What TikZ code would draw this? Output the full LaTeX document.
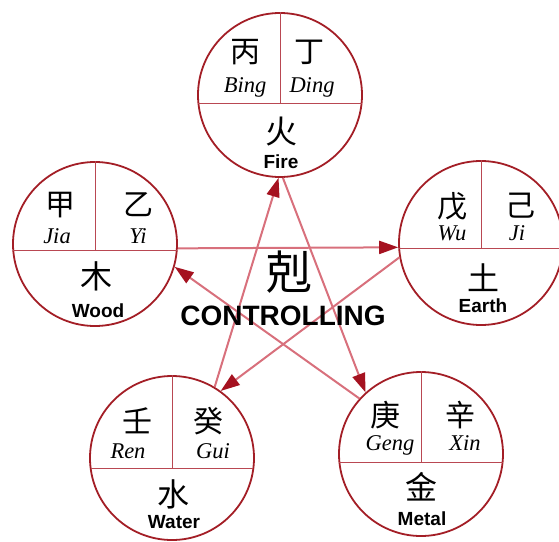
\documentclass[tikz,border=0pt]{standalone}
\usepackage{fontspec}
\setsansfont{Liberation Sans}
\newfontfamily\pinyinfont{Liberation Serif}
\newfontfamily\cjkfont{Noto Sans CJK SC}
\usepackage{tikz}
\usetikzlibrary{arrows.meta}

\definecolor{ringred}{RGB}{163,30,38}
\definecolor{splitred}{RGB}{185,72,82}
\definecolor{ctrlpink}{RGB}{216,112,124}
\definecolor{tipred}{RGB}{165,18,32}

\begin{document}
\begin{tikzpicture}[
    x=1pt, y=-1pt,
    ring/.style={circle, draw=ringred, line width=1.8pt, minimum size=164pt, inner sep=0pt},
    split/.style={splitred, line width=0.9pt},
    stem/.style={font=\cjkfont\fontsize{30}{30}\selectfont},
    pinyin/.style={anchor=base, font=\pinyinfont\itshape\fontsize{22.5}{22.5}\selectfont},
    phase/.style={font=\cjkfont\fontsize{32}{32}\selectfont},
    phasename/.style={anchor=base, font=\sffamily\bfseries\fontsize{19}{19}\selectfont},
    ctrl/.style={ctrlpink, line width=2pt, -{Triangle[length=19pt,width=13pt,color=tipred]}}
]
\useasboundingbox (0,0) rectangle (559,541);

% =========================================================================
% 1. FIRE (arriba)
% =========================================================================
\begin{scope}[shift={(280,95)}]
    \node[ring] (fire) at (0,0) {};
    \draw[split] (-81.6,8) -- (81.6,8);
    \draw[split] (fire.north) -- (0,8);
    \node[stem] (bingzi) at (-35,-43) {丙};
    \node[stem] (dingzi) at (29,-43) {丁};
    \node[pinyin] (bing) at (-35,-3) {Bing};
    \node[pinyin] (ding) at (32,-3) {Ding};
    \node[phase] (huo) at (1,37) {火};
    \node[phasename] (firename) at (1,73) {Fire};
\end{scope}

% =========================================================================
% 2. WOOD (izquierda)
% =========================================================================
\begin{scope}[shift={(95,244)}]
    \node[ring] (wood) at (0,0) {};
    \draw[split] (-81.8,6) -- (81.8,6);
    \draw[split] (wood.north) -- (0,6);
    \node[stem] (jiazi) at (-35,-39) {甲};
    \node[stem] (yizi) at (43,-39) {乙};
    \node[pinyin] (jia) at (-38,-1) {Jia};
    \node[pinyin] (yi) at (43,-1) {Yi};
    \node[phase] (mu) at (1,32) {木};
    \node[phasename] (woodname) at (3,73) {Wood};
\end{scope}

% =========================================================================
% 3. EARTH (derecha)
% =========================================================================
\begin{scope}[shift={(481,243)}]
    \node[ring] (earth) at (0,0) {};
    \draw[split] (-81.9,5) -- (81.9,5);
    \draw[split] (earth.north) -- (0,5);
    \node[stem] (wuzi) at (-29,-37) {戊};
    \node[stem] (jizi) at (39,-37) {己};
    \node[pinyin] (wu) at (-29,-3) {Wu};
    \node[pinyin] (ji) at (36,-3) {Ji};
    \node[phase] (tu) at (2,35) {土};
    \node[phasename] (earthname) at (2,69) {Earth};
\end{scope}

% =========================================================================
% 4. WATER (abajo izquierda)
% =========================================================================
\begin{scope}[shift={(172,458)}]
    \node[ring] (water) at (0,0) {};
    \draw[split] (-81.4,10) -- (81.4,10);
    \draw[split] (water.north) -- (0,10);
    \node[stem] (renzi) at (-35,-37) {壬};
    \node[stem] (guizi) at (36,-37) {癸};
    \node[pinyin] (ren) at (-44,0) {Ren};
    \node[pinyin] (gui) at (41,0) {Gui};
    \node[phase] (shui) at (1,36) {水};
    \node[phasename] (watername) at (2,70) {Water};
\end{scope}

% =========================================================================
% 5. METAL (abajo derecha)
% =========================================================================
\begin{scope}[shift={(421,454)}]
    \node[ring] (metal) at (0,0) {};
    \draw[split] (-81.6,8) -- (81.6,8);
    \draw[split] (metal.north) -- (0,8);
    \node[stem] (gengzi) at (-36,-39) {庚};
    \node[stem] (xinzi) at (39,-39) {辛};
    \node[pinyin] (geng) at (-31,-4) {Geng};
    \node[pinyin] (xin) at (44,-4) {Xin};
    \node[phase] (jin) at (0,33) {金};
    \node[phasename] (metalname) at (1,71) {Metal};
\end{scope}

% =========================================================================
% 6. CONTROLLING CYCLE (estrella)
% =========================================================================
\draw[ctrl] (wood.-3) -- (earth.183);
\draw[ctrl] (earth.190) -- (water.54);
\draw[ctrl] (water.59) -- (fire.269);
\draw[ctrl] (fire.272) -- (metal.132);
\draw[ctrl] (metal.138) -- (wood.-16);

% Rótulo central
\node[font=\cjkfont\fontsize{46}{46}\selectfont] (ke) at (289,272) {剋};
\node[anchor=base, font=\sffamily\bfseries\fontsize{28}{28}\selectfont] (controlling) at (283,325) {CONTROLLING};

\end{tikzpicture}
\end{document}
